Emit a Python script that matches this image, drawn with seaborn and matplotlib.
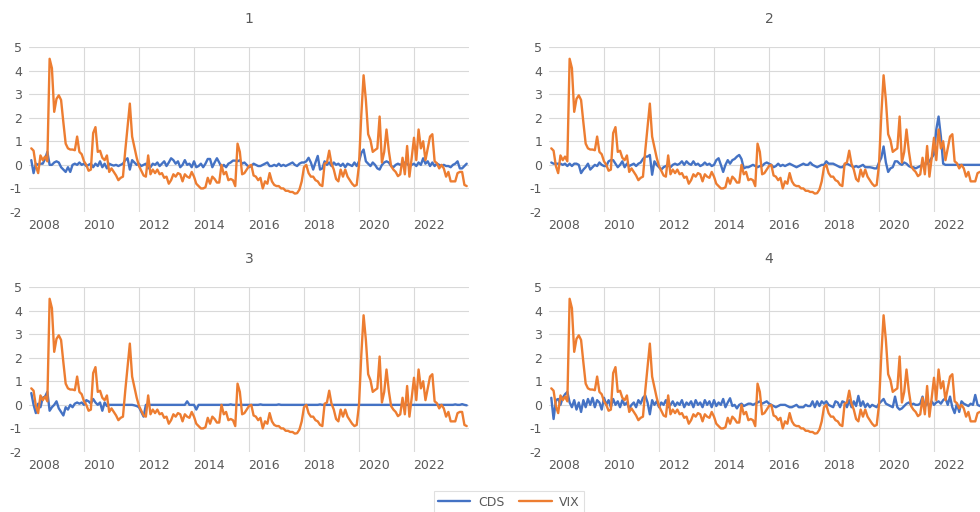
import numpy as np
import pandas as pd
import matplotlib
matplotlib.use("Agg")
import matplotlib.pyplot as plt
from matplotlib.lines import Line2D
from matplotlib.ticker import FixedLocator
import seaborn as sns

# ---------------- data (monthly, Feb 2008 .. Dec 2023) ----------------
start_year = 2008
start_month = 2
n_months = 191

vix = [
    0.7, 0.6, -0.05, -0.35, 0.4, 0.2, 0.35, 0.15, 4.5, 4.1, 2.25,
    2.8, 2.95, 2.75, 1.8, 0.9, 0.7, 0.65, 0.65, 0.62, 1.2, 0.55, 0.45,
    0.15, 0.0, -0.25, -0.2, 1.35, 1.6, 0.55, 0.6, 0.3, 0.2, 0.4, -0.3,
    -0.15, -0.3, -0.45, -0.65, -0.55, -0.5, 0.6, 1.6, 2.6, 1.2, 0.75, 0.3,
    -0.05, -0.25, -0.45, -0.5, 0.4, -0.4, -0.2, -0.35, -0.2, -0.4, -0.35, -0.55,
    -0.5, -0.8, -0.65, -0.4, -0.5, -0.35, -0.4, -0.7, -0.4, -0.5, -0.55, -0.3,
    -0.5, -0.8, -0.9, -1.0, -1.0, -0.95, -0.55, -0.8, -0.5, -0.6, -0.75, -0.75,
    0.0, -0.4, -0.3, -0.65, -0.6, -0.65, -0.9, 0.9, 0.55, -0.4, -0.35, -0.2,
    -0.05, 0.0, -0.45, -0.5, -0.65, -0.55, -1.0, -0.7, -0.8, -0.35, -0.7, -0.85,
    -0.9, -0.9, -1.0, -1.0, -1.1, -1.1, -1.15, -1.15, -1.22, -1.2, -1.05, -0.7,
    -0.1, 0.0, -0.35, -0.5, -0.5, -0.65, -0.7, -0.85, -0.9, 0.05, 0.1, 0.6,
    0.05, -0.2, -0.6, -0.7, -0.2, -0.5, -0.2, -0.5, -0.65, -0.8, -0.9, -0.85,
    0.0, 2.1, 3.8, 2.75, 1.3, 1.05, 0.55, 0.63, 0.7, 2.05, 0.1, 0.55,
    1.5, 0.6, -0.05, -0.2, -0.3, -0.48, -0.4, 0.3, -0.4, 0.8, -0.5, 0.3,
    1.15, 0.2, 1.5, 0.7, 1.0, 0.2, 0.7, 1.2, 1.3, 0.15, 0.07, -0.15,
    0.0, -0.15, -0.5, -0.3, -0.7, -0.7, -0.7, -0.35, -0.3, -0.3, -0.85, -0.9,
]

cds_1 = [
    0.2, -0.35, 0.05, 0.0, 0.05, 0.05, 0.25, 0.55, 0.0, 0.0, 0.1,
    0.15, 0.1, -0.1, -0.2, -0.3, -0.1, -0.3, 0.0, 0.05, 0.0, 0.1, 0.0,
    0.05, -0.05, 0.0, 0.05, -0.1, 0.05, -0.05, 0.15, -0.1, 0.05, -0.15, 0.05,
    0.0, -0.03, 0.0, -0.05, 0.0, 0.05, 0.2, 0.28, -0.2, 0.2, 0.1, 0.0,
    0.05, -0.05, 0.0, 0.05, -0.15, -0.1, 0.05, 0.0, 0.1, -0.05, 0.05, 0.15,
    -0.05, 0.1, 0.28, 0.2, 0.05, 0.15, -0.1, 0.0, 0.2, 0.0, 0.05, -0.1,
    0.15, -0.1, -0.05, 0.05, -0.1, 0.05, 0.25, 0.25, -0.1, 0.1, 0.28, 0.1,
    -0.1, 0.0, -0.1, 0.05, 0.1, 0.18, 0.18, 0.15, 0.2, 0.05, 0.1, 0.0,
    -0.1, -0.05, 0.05, 0.0, -0.05, -0.05, 0.0, 0.05, 0.1, -0.05, -0.05, 0.0,
    -0.05, 0.05, -0.05, 0.0, -0.05, 0.0, 0.05, 0.1, 0.0, -0.05, 0.05, 0.1,
    0.1, 0.15, 0.3, 0.1, -0.2, 0.1, 0.38, -0.2, -0.15, 0.15, 0.0, 0.1,
    -0.05, 0.1, 0.0, 0.05, -0.05, 0.05, -0.1, 0.05, 0.0, -0.05, 0.1, -0.05,
    0.15, 0.5, 0.65, 0.15, 0.05, -0.05, 0.1, 0.0, -0.15, -0.2, 0.0, 0.1,
    0.15, 0.1, -0.05, -0.1, 0.0, 0.05, 0.0, 0.05, 0.1, 0.05, -0.05, 0.0,
    0.05, -0.05, 0.1, 0.0, 0.28, 0.05, 0.15, -0.05, 0.1, -0.05, 0.05, 0.0,
    -0.05, 0.0, -0.05, -0.05, -0.1, 0.0, 0.05, 0.15, -0.15, -0.15, -0.05, 0.05,
]

cds_2 = [
    0.1, 0.05, 0.05, 0.05, 0.05, 0.0, 0.05, -0.05, 0.05, -0.05, 0.05,
    0.05, 0.0, -0.35, -0.2, -0.1, 0.05, -0.2, -0.1, 0.0, -0.05, 0.1, 0.0,
    -0.05, -0.05, 0.15, 0.2, 0.2, 0.05, -0.1, 0.0, 0.15, -0.1, 0.05, -0.05,
    0.0, 0.05, -0.05, 0.05, 0.1, 0.25, 0.35, 0.35, 0.42, -0.42, 0.15, 0.0,
    -0.1, -0.2, -0.1, -0.05, 0.0, -0.1, 0.0, 0.05, 0.0, 0.05, 0.15, 0.0,
    0.15, 0.05, 0.0, 0.15, 0.0, 0.05, -0.05, 0.0, 0.1, 0.0, 0.05, -0.05,
    0.0, 0.2, 0.28, 0.0, -0.3, 0.0, 0.2, 0.05, 0.2, 0.25, 0.35, 0.42,
    0.25, -0.15, -0.1, -0.1, -0.05, 0.0, -0.05, -0.1, -0.05, -0.05, 0.05, 0.1,
    0.05, 0.0, -0.1, -0.05, 0.05, -0.05, 0.0, -0.05, 0.0, 0.05, 0.0, -0.05,
    -0.1, -0.05, 0.0, 0.05, 0.0, 0.0, 0.1, 0.0, -0.05, -0.1, -0.05, 0.0,
    0.0, 0.15, 0.05, 0.05, 0.05, 0.0, -0.05, -0.1, -0.1, 0.0, 0.05, 0.0,
    -0.05, -0.1, -0.05, -0.1, -0.05, 0.0, -0.1, -0.1, -0.1, -0.12, -0.15, -0.15,
    0.1, 0.3, 0.78, 0.1, -0.3, -0.15, -0.1, 0.15, 0.15, 0.05, 0.0, 0.1,
    0.05, -0.05, -0.1, -0.1, -0.15, -0.1, -0.05, 0.0, 0.05, 0.05, 0.15, 0.3,
    0.45, 1.5, 2.05, 1.2, 0.05, 0.0, 0.0, 0.0, 0.0, 0.0, 0.0, 0.0,
    0.0, 0.0, 0.0, 0.0, 0.0, 0.0, 0.0, 0.0, 0.0, 0.0, 0.0, 0.0,
]

cds_3 = [
    0.5, 0.0, -0.35, 0.05, -0.1, 0.3, 0.35, 0.55, -0.25, -0.1, 0.0,
    0.15, -0.15, -0.3, -0.45, -0.1, -0.2, 0.0, -0.1, 0.05, 0.1, 0.05, 0.1,
    0.0, 0.2, 0.15, 0.05, 0.25, 0.1, 0.0, 0.1, -0.25, 0.1, -0.05, 0.0,
    0.0, 0.0, 0.0, 0.0, 0.0, 0.0, 0.0, 0.0, 0.0, 0.0, -0.02, -0.05,
    -0.1, -0.3, -0.5, 0.0, 0.0, 0.0, 0.0, 0.0, 0.0, 0.0, 0.0, 0.0,
    0.0, 0.0, 0.0, 0.0, 0.0, 0.0, 0.0, 0.0, 0.0, 0.15, 0.0, 0.0,
    0.0, -0.2, 0.0, 0.0, 0.0, 0.0, 0.0, 0.0, 0.0, 0.0, 0.0, 0.0,
    0.0, 0.0, 0.0, 0.0, 0.02, 0.0, 0.0, 0.0, 0.0, 0.0, 0.0, 0.0,
    0.0, 0.0, 0.0, 0.0, 0.0, 0.02, 0.0, 0.0, 0.0, 0.0, 0.0, 0.0,
    0.0, 0.02, 0.0, 0.0, 0.0, 0.0, 0.0, 0.0, 0.0, 0.0, 0.0, 0.0,
    0.0, 0.0, 0.0, 0.0, 0.0, 0.0, 0.0, 0.02, 0.0, 0.0, 0.0, 0.0,
    0.0, 0.0, 0.0, 0.0, 0.0, 0.0, 0.0, 0.0, 0.0, 0.0, 0.0, 0.0,
    0.0, 0.0, 0.0, 0.0, 0.0, 0.0, 0.0, 0.0, 0.0, 0.0, 0.0, 0.0,
    0.0, 0.0, 0.0, 0.0, 0.0, 0.0, 0.0, 0.0, 0.0, 0.0, 0.0, 0.0,
    0.0, 0.0, 0.0, 0.0, 0.0, 0.0, 0.0, 0.0, 0.0, 0.0, 0.0, 0.0,
    0.0, 0.0, 0.0, 0.0, 0.0, 0.0, 0.02, 0.0, 0.0, 0.03, 0.0, -0.02,
]

cds_4 = [
    0.3, -0.6, 0.2, 0.25, 0.0, 0.3, 0.45, 0.55, 0.1, -0.1, 0.2,
    -0.2, 0.1, -0.3, 0.2, -0.1, 0.25, 0.0, 0.3, -0.1, 0.2, 0.1, -0.2,
    0.3, 0.0, 0.2, -0.1, 0.25, 0.0, 0.15, -0.1, 0.2, 0.0, 0.1, -0.15,
    0.0, 0.1, -0.1, 0.2, 0.05, 0.3, 0.4, 0.1, -0.4, 0.2, 0.0, 0.15,
    -0.1, 0.1, 0.0, 0.2, -0.1, 0.0, 0.15, -0.05, 0.1, 0.0, 0.2, -0.1,
    0.1, 0.0, 0.15, -0.1, 0.2, 0.0, 0.1, -0.1, 0.2, 0.0, 0.15, -0.1,
    0.2, -0.05, 0.1, 0.0, 0.25, -0.1, 0.1, 0.28, -0.05, 0.0, -0.15, 0.0,
    0.05, -0.05, 0.0, 0.05, 0.05, 0.0, 0.05, 0.1, 0.15, 0.05, 0.1, 0.15,
    0.05, 0.0, -0.05, -0.1, -0.05, 0.0, 0.0, 0.0, -0.05, -0.1, -0.1, -0.05,
    0.0, -0.1, -0.1, -0.1, 0.0, -0.05, -0.05, 0.15, -0.1, 0.15, -0.05, 0.15,
    0.05, 0.15, 0.0, -0.05, -0.1, 0.15, 0.1, -0.1, 0.15, 0.1, -0.1, 0.2,
    -0.1, 0.15, -0.05, 0.38, -0.05, 0.15, -0.1, 0.05, -0.1, 0.0, -0.05, -0.1,
    0.05, 0.15, 0.25, 0.05, 0.0, -0.05, -0.1, 0.35, -0.1, -0.2, -0.15, -0.05,
    0.05, 0.1, 0.0, 0.05, 0.0, 0.0, 0.05, 0.35, -0.1, 0.15, -0.1, 0.15,
    0.0, 0.1, 0.15, 0.05, 0.2, 0.28, 0.0, 0.35, -0.1, -0.35, 0.05, -0.3,
    0.15, 0.05, 0.0, -0.05, 0.05, 0.0, 0.42, 0.0, -0.05, 0.0, 0.05, 0.0,
]

panel_titles = ["1", "2", "3", "4"]
cds_series = [cds_1, cds_2, cds_3, cds_4]
series_names = ["CDS", "VIX"]
year_ticks = [2008, 2010, 2012, 2014, 2016, 2018, 2020, 2022]
y_ticks = [-2, -1, 0, 1, 2, 3, 4, 5]

# ---------------- styling ----------------
sns.set_style("white")
plt.rcParams["font.family"] = ["DejaVu Sans"]
palette = {"CDS": "#4472C4", "VIX": "#ED7D31"}
text_color = "#595959"
grid_color = "#d9d9d9"

dates = pd.date_range(f"{start_year}-{start_month:02d}-01", periods=n_months, freq="MS")
t = dates.year + (dates.month - 1) / 12.0

fig = plt.figure(figsize=(9.8, 5.12), dpi=100)
W, H = 980.0, 512.0
# axes pixel boxes: (left, top, right, bottom)
boxes = [(29, 47, 469, 212), (549, 47, 989, 212),
         (29, 287, 469, 452), (549, 287, 989, 452)]

for i, (title, cds) in enumerate(zip(panel_titles, cds_series)):
    l, tp, r, b = boxes[i]
    ax = fig.add_axes([l / W, 1 - b / H, (r - l) / W, (b - tp) / H])
    df = pd.DataFrame({
        "t": np.concatenate([t, t]),
        "value": np.concatenate([np.asarray(cds, float), np.asarray(vix, float)]),
        "series": ["CDS"] * n_months + ["VIX"] * n_months,
    })
    sns.lineplot(data=df, x="t", y="value", hue="series", hue_order=series_names,
                 palette=palette, ax=ax, legend=False, linewidth=1.7,
                 estimator=None, sort=False)
    ax.set_xlim(2008, 2024)
    ax.set_ylim(-2, 5)
    ax.set_xlabel("")
    ax.set_ylabel("")
    # labels are placed slightly right of the year gridlines, like the original
    ax.xaxis.set_major_locator(FixedLocator([y + 0.53 for y in year_ticks]))
    ax.set_xticklabels([str(y) for y in year_ticks])
    ax.xaxis.set_minor_locator(FixedLocator(year_ticks[1:]))
    ax.set_yticks(y_ticks)
    ax.set_yticklabels([str(v) for v in y_ticks])
    ax.tick_params(axis="both", which="both", length=0, labelsize=9,
                   labelcolor=text_color)
    ax.tick_params(axis="x", pad=5)
    ax.tick_params(axis="y", pad=5)
    ax.grid(False)
    ax.grid(True, which="minor", axis="x", color=grid_color, linewidth=0.8)
    ax.grid(True, which="major", axis="y", color=grid_color, linewidth=0.8)
    ax.get_ygridlines()[0].set_visible(False)
    ax.set_axisbelow(True)
    for s in ax.spines.values():
        s.set_visible(False)
    ax.set_title(title, fontsize=10, color=text_color, pad=17)

handles = [Line2D([0], [0], color=palette[n], linewidth=1.7) for n in series_names]
leg = fig.legend(handles, series_names, loc="center", bbox_to_anchor=(509 / W, 1 - 502 / H),
                 ncol=2, frameon=True, fancybox=False, edgecolor=grid_color,
                 fontsize=9, handlelength=2.6, columnspacing=1.2, borderpad=0.35,
                 handletextpad=0.6)
for txt in leg.get_texts():
    txt.set_color(text_color)
leg.get_frame().set_linewidth(0.8)

fig.savefig("out.png", dpi=100)
